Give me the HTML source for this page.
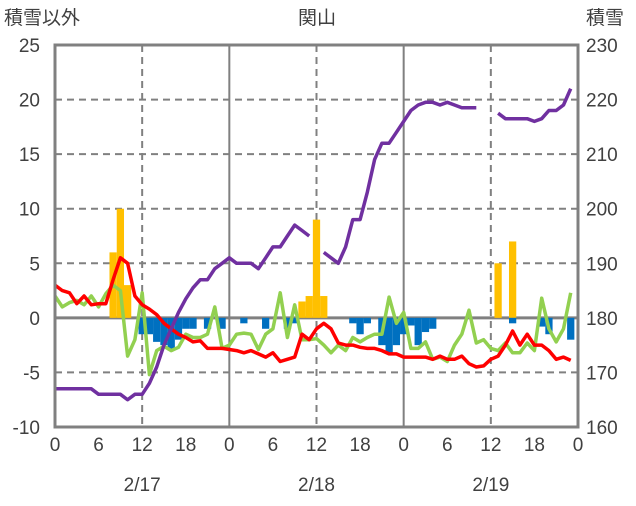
<!DOCTYPE html>
<html><head><meta charset="utf-8"><style>
body{margin:0;background:#fff;}
svg text{font-family:"Liberation Sans","Noto Sans CJK JP",sans-serif;font-size:19px;fill:#404040;}
</style></head><body>
<svg id="c" width="636" height="501"></svg>
<script>
const hours=[];for(let i=0;i<72;i++)hours.push(i);
const leftTicks=[25,20,15,10,5,0,-5,-10];
const rightTicks=[230,220,210,200,190,180,170,160];
const xTickLabels=["0","6","12","18","0","6","12","18","0","6","12","18","0"];
const dateLabels=["2/17","2/18","2/19"];
const depth=[167,167,167,167,167,167,166,166,166,166,165,166,166,168,171,175,178,181,183.5,185.5,187,187,189,190,191,190,190,190,189,191,193,193,195,197,196,195,null,192,191,190,193,198,198,203,209,212,212,214,216,218,219,219.5,219.5,219,219.5,219,218.5,218.5,218.5,null,null,217.5,216.5,216.5,216.5,216.5,216,216.5,218,218,219,222];
const temp=[3,2.5,2.3,1.3,2,1.2,1.3,1.3,3.5,5.5,5,2,1.2,0.8,0.3,-0.5,-1,-1.5,-1.8,-2.2,-2.1,-2.8,-2.8,-2.8,-2.9,-3.0,-3.2,-3.0,-3.3,-3.6,-3.2,-4.0,-3.8,-3.6,-1.5,-2.0,-1.0,-0.5,-1.0,-2.3,-2.5,-2.5,-2.7,-2.8,-2.8,-3.0,-3.3,-3.3,-3.6,-3.6,-3.6,-3.6,-3.8,-3.5,-3.8,-3.8,-3.5,-4.2,-4.5,-4.4,-3.8,-3.5,-2.5,-1.2,-2.5,-1.5,-2.5,-2.5,-3.0,-3.8,-3.6,-3.9];
const wind=[2,1,1.4,1.6,1.2,2,1,2.2,3,2.5,-3.5,-2,2.3,-5.2,-3,-2.6,-3,-2.7,-1.5,-1.8,-1.8,-1.5,1.0,-2.8,-2.5,-1.5,-1.4,-1.5,-2.9,-1.5,-1.0,2.3,-1.8,1.2,-2.0,-2.0,-1.9,-2.5,-3.2,-2.5,-3.0,-1.8,-2.2,-1.8,-1.5,-1.5,1.9,-0.5,0.5,-2.8,-2.8,-2.2,-3.8,-3.6,-4.0,-2.5,-1.5,0.7,-2.3,-2.0,-2.8,-3.0,-2.3,-3.2,-3.2,-2.3,-3.0,1.8,-1,-2.2,-1.0,2.3];
const snowHours=[8,9,10,34,35,36,37,61,63];
const snowVals=[6,10,3,1.5,2,9,2,5,7];
const meltHours=[12,13,14,15,16,17,18,19,21,23,26,29,32,33,41,42,43,45,46,47,48,49,50,51,52,63,67,68,71];
const meltVals=[-1.5,-1.5,-2.2,-2.5,-3.0,-2.0,-1.0,-1.0,-1.0,-1.0,-0.5,-1.0,-1.0,-0.5,-0.5,-1.5,-0.5,-2.5,-3.2,-2.5,-1.5,-0.7,-2.5,-1.3,-1.0,-0.5,-0.8,-1.5,-2];

const L=55,R=578,T=45,B=427;
const xs=h=>L+h*(R-L)/72;
const yl=v=>T+(25-v)*(B-T)/35;
const yr=v=>T+(230-v)*(B-T)/70;
const svg=document.getElementById('c');
const NS='http://www.w3.org/2000/svg';
function mk(t,a,p){const e=document.createElementNS(NS,t);for(const k in a)e.setAttribute(k,a[k]);(p||svg).appendChild(e);return e;}
leftTicks.forEach(v=>{if(v===25||v===-10)return;
 const g=mk('line',{x1:L,x2:R,y1:yl(v),y2:yl(v),stroke:'#808080','stroke-width':v===0?3:2,'stroke-dasharray':v===0?'':'7,5'});
 
 });
[12,36,60].forEach(h=>{const g=mk('line',{x1:xs(h),x2:xs(h),y1:T,y2:B,stroke:'#808080','stroke-width':2,'stroke-dasharray':'7,5'});
 });
[24,48].forEach(h=>{const g=mk('line',{x1:xs(h),x2:xs(h),y1:T,y2:B,stroke:'#808080','stroke-width':2});
 });
const bw=(R-L)/72;
snowHours.forEach((h,i)=>{const v=snowVals[i];const b=mk('rect',{x:xs(h)-bw/2,y:yl(v),width:bw,height:yl(0)-yl(v),fill:'#FFC000'});
 });
meltHours.forEach((h,i)=>{const v=meltVals[i];const b=mk('rect',{x:xs(h)-bw/2,y:yl(0),width:bw,height:yl(v)-yl(0),fill:'#0070C0'});
 });
function line(arr,fy,col,name){let d='',pen=false;arr.forEach((v,i)=>{if(v===null){pen=false;return;}d+=(pen?'L':'M')+xs(hours[i]).toFixed(1)+','+fy(v).toFixed(1);pen=true;});
 const p=mk('path',{d:d,fill:'none',stroke:col,'stroke-width':3.5,'stroke-linejoin':'round'});
 }
line(wind,yl,'#92D050','wind-line');
line(temp,yl,'#FF0000','temperature-line');
line(depth,yr,'#7030A0','snow-depth-line');
const f=mk('rect',{x:L,y:T,width:R-L,height:B-T,fill:'none',stroke:'#808080','stroke-width':3});

leftTicks.forEach(v=>{const t=mk('text',{x:40,y:yl(v)+7,'text-anchor':'end'});t.textContent=v;
 });
rightTicks.forEach(v=>{const t=mk('text',{x:586,y:yl((v-180)/2)+7});t.textContent=v;
 });
xTickLabels.forEach((s,i)=>{const t=mk('text',{x:xs(i*6),y:451,'text-anchor':'middle'});t.textContent=s;
 });
dateLabels.forEach((s,i)=>{const t=mk('text',{x:xs(12+24*i),y:491,'text-anchor':'middle'});t.textContent=s;
 });
[['積雪以外',4,'start','left-axis-title'],['関山',317,'middle','chart-title'],['積雪',586,'start','right-axis-title']].forEach(a=>{
 const t=mk('text',{x:a[1],y:24,'text-anchor':a[2]});t.textContent=a[0];
 });
</script>
</body></html>
